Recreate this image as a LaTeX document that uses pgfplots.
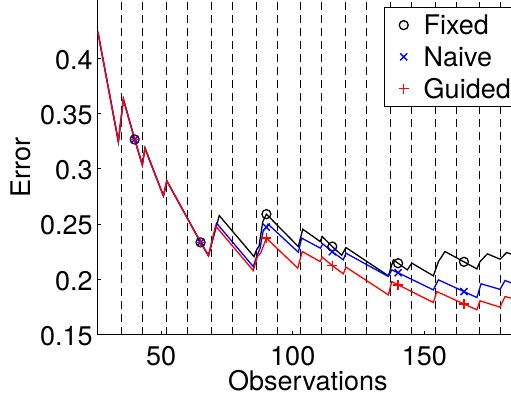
\documentclass[border=0pt]{standalone}
\usepackage{fontspec}
\setmainfont{TeX Gyre Heros}
\usepackage{pgfplots}
\pgfplotsset{compat=1.18}
\newcommand\bigf{\fontsize{27}{32}\selectfont}

% error curves (observations, error)
\pgfplotstableread{
x y
26 0.4240
33.8 0.3246
35.7 0.3629
40 0.3265
42.9 0.3035
43.9 0.3186
50.9 0.2755
52.2 0.2891
65 0.2335
68 0.2213
72.1 0.2577
85.3 0.2206
86.3 0.2270
87.2 0.2300
88.6 0.2520
90 0.2590
102.1 0.2297
103.8 0.2454
110.4 0.2342
111.2 0.2387
115 0.2297
118.6 0.2218
120.2 0.2288
136.3 0.2032
138.2 0.2177
140 0.2146
143.5 0.2086
145.2 0.2147
153.4 0.2032
155.3 0.2161
157.8 0.2252
165 0.2159
169.9 0.2095
171.1 0.2161
173.9 0.2231
178.7 0.2183
181.2 0.2243
183 0.2228
}\fixed

\pgfplotstableread{
x y
26 0.4240
33.8 0.3246
35.7 0.3629
40 0.3265
42.9 0.3035
43.9 0.3186
50.9 0.2755
52.2 0.2891
65 0.2338
68 0.2218
71.1 0.2508
85.0 0.2116
86.3 0.2206
87.6 0.2282
88.8 0.2440
90 0.2472
90.6 0.2500
102.1 0.2246
103.4 0.2373
110.5 0.2282
111.4 0.2321
115 0.2250
119.2 0.2177
120.2 0.2237
136.3 0.2026
137.6 0.2086
140 0.2060
153.4 0.1905
155.3 0.1996
165 0.1890
169.9 0.1836
171.5 0.1960
178.7 0.1910
180.6 0.1990
183 0.1968
}\naive

\pgfplotstableread{
x y
26 0.4240
33.8 0.3246
35.7 0.3629
40 0.3265
42.9 0.3035
43.9 0.3186
50.9 0.2755
52.2 0.2891
65 0.2335
68 0.2213
70.7 0.2484
85.0 0.2080
86.6 0.2206
87.8 0.2237
90 0.2373
101.9 0.2102
103.6 0.2252
110.4 0.2161
111.2 0.2201
115 0.2125
119.2 0.2050
120.2 0.2111
136.3 0.1860
137.6 0.1980
140 0.1951
153.4 0.1791
154.7 0.1890
165 0.1778
169.9 0.1725
171.1 0.1806
178.7 0.1749
180.6 0.1845
183 0.1830
}\guided

% markers every 25 observations
\pgfplotstableread{
x y
40 0.3265
65 0.2335
90 0.2590
115 0.2297
140 0.2146
165 0.2159
}\fixedmk
\pgfplotstableread{
x y
40 0.3265
65 0.2335
90 0.2472
115 0.2250
140 0.2060
165 0.1890
}\naivemk
\pgfplotstableread{
x y
40 0.3265
65 0.2335
90 0.2373
115 0.2125
140 0.1951
165 0.1778
}\guidedmk

\begin{document}
\begin{tikzpicture}
\begin{axis}[
  name=ax,
  scale only axis,
  width=413.7pt, height=334.7pt,
  xmin=25.8, xmax=182.86,
  ymin=0.15, ymax=0.4526,
  axis lines*=left,
  axis line style={line width=0.9pt, black},
  tick align=inside,
  major tick length=4pt,
  tick style={line width=0.8pt, black},
  xtick={50,100,150},
  ytick={0.15,0.2,0.25,0.3,0.35,0.4},
  /pgf/number format/assume math mode=true,
  tick label style={font=\bigf},
  xticklabel style={inner sep=0pt, anchor=north, yshift=-11pt},
  yticklabel style={inner sep=0pt, anchor=east, xshift=-4.5pt, yshift=-1.5pt},
  extra x ticks={35,43,52,60,69,77,86,94,103,111,120,128,137,145,154,162,171,179},
  extra x tick labels={},
  extra x tick style={grid=major, major tick length=0pt,
    major grid style={black, line width=0.7pt, dash pattern=on 7.5pt off 5.5pt}},
  xlabel={Observations}, ylabel={Error},
  label style={font=\bigf},
  xlabel style={at={(axis description cs:0.509,0)}, anchor=north, inner sep=0pt, yshift=-35.5pt},
  ylabel style={at={(axis description cs:-0.1844,0.5)}, anchor=center, inner sep=0pt},
  legend style={at={(axis description cs:0.693,0.980)}, anchor=north west,
    draw=black, line width=0.9pt, fill=white, font=\bigf,
    inner xsep=10.8pt, inner ysep=8.3pt, row sep=12.3pt,
    nodes={inner sep=0pt, text height=19.4pt, text depth=0pt}},
  legend cell align=left,
  legend image code/.code={\draw[#1] plot coordinates {(0pt,0pt)}; \path[draw=none] (-8.5pt,0pt) -- (20pt,0pt);},
]
\addplot[black, line width=1.3pt, forget plot] table {\fixed};
\addplot[blue, line width=1.3pt, forget plot] table {\naive};
\addplot[red, line width=1.3pt, forget plot] table {\guided};

\addplot[black, only marks, mark=o, mark size=4.5pt, line width=1.3pt] table {\fixedmk};
\addlegendentry{Fixed}
\addplot[blue, only marks, mark=x, mark size=5pt, line width=1.4pt] table {\naivemk};
\addlegendentry{Naive}
\addplot[red, only marks, mark=+, mark size=5pt, line width=1.4pt] table {\guidedmk};
\addlegendentry{Guided}
\end{axis}
\pgfresetboundingbox
\path[use as bounding box] ([shift={(-97.3pt,-60.3pt)}]ax.south west) rectangle (ax.north east);
\end{tikzpicture}
\end{document}
